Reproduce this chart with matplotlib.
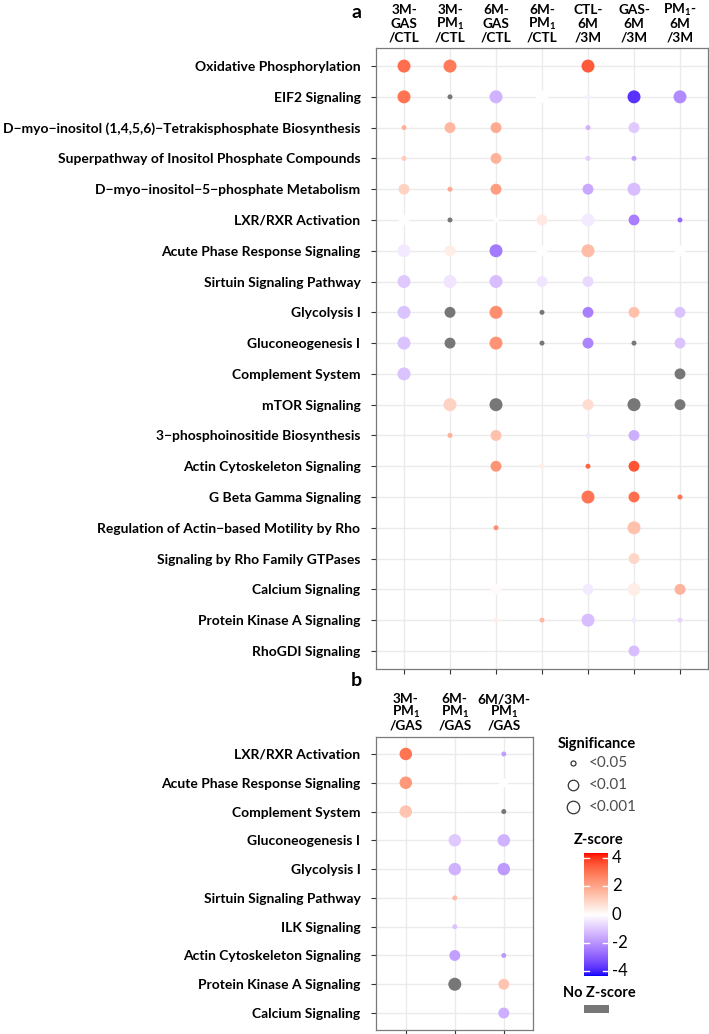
import numpy as np
import matplotlib
matplotlib.use("Agg")
import matplotlib.pyplot as plt
import matplotlib.transforms as mtrans
from matplotlib.colors import ListedColormap, Normalize
from matplotlib.patches import Rectangle

N = np.nan

# ---------------- data ----------------
rows_a = ["Oxidative Phosphorylation", "EIF2 Signaling",
          "D\u2212myo\u2212inositol (1,4,5,6)\u2212Tetrakisphosphate Biosynthesis",
          "Superpathway of Inositol Phosphate Compounds",
          "D\u2212myo\u2212inositol\u22125\u2212phosphate Metabolism",
          "LXR/RXR Activation", "Acute Phase Response Signaling",
          "Sirtuin Signaling Pathway", "Glycolysis I", "Gluconeogenesis I",
          "Complement System", "mTOR Signaling",
          "3\u2212phosphoinositide Biosynthesis", "Actin Cytoskeleton Signaling",
          "G Beta Gamma Signaling", "Regulation of Actin\u2212based Motility by Rho",
          "Signaling by Rho Family GTPases", "Calcium Signaling",
          "Protein Kinase A Signaling", "RhoGDI Signaling"]
cols_a = [["3M-", "GAS", "/CTL"], ["3M-", "PM$_\\mathbf{1}$", "/CTL"],
          ["6M-", "GAS", "/CTL"], ["6M-", "PM$_\\mathbf{1}$", "/CTL"],
          ["CTL-", "6M", "/3M"], ["GAS-", "6M", "/3M"],
          ["PM$_\\mathbf{1}$-", "6M", "/3M"]]

# z-score (nan = no z-score / no point); -log10(p) (nan = no point)
z_a = [[3.1, 2.9, N, N, 3.5, N, N],
       [3.0, N, -1.4, 0.0, -0.3, -3.8, -2.2],
       [1.8, 1.6, 1.9, N, -1.4, -1.0, N],
       [1.2, N, 1.7, N, -0.9, -1.8, N],
       [1.0, 1.9, 2.2, N, -1.6, -1.2, N],
       [0.0, N, 0.0, 0.5, -0.4, -2.4, -2.8],
       [-0.4, 0.4, -2.5, 0.0, 1.5, N, 0.0],
       [-1.0, -0.5, -1.2, -0.5, -0.7, N, N],
       [-1.1, N, 2.5, N, -2.4, 1.4, -1.1],
       [-1.1, N, 2.4, N, -2.3, N, -1.1],
       [-1.1, N, N, N, N, N, N],
       [N, 1.0, N, N, 0.8, N, N],
       [N, 1.8, 1.4, N, -0.4, -1.5, N],
       [N, N, 2.4, 0.4, 3.3, 3.6, N],
       [N, N, N, N, 3.0, 3.1, 3.0],
       [N, N, 2.5, N, N, 1.4, N],
       [N, N, N, N, N, 0.9, N],
       [N, N, 0.1, N, -0.4, 0.4, 1.7],
       [N, N, 0.4, 1.6, -1.2, -0.4, -0.8],
       [N, N, N, N, N, -1.2, N]]
lp_a = [[3.5, 3.5, N, N, 3.5, N, N],
        [3.5, 1.3, 3.5, 2.8, 1.3, 3.5, 3.5],
        [1.3, 2.2, 2.2, N, 1.3, 2.2, N],
        [1.3, N, 2.2, N, 1.3, 1.3, N],
        [2.2, 1.3, 2.2, N, 2.2, 3.5, N],
        [2.2, 1.3, 1.3, 2.2, 3.5, 2.2, 1.3],
        [3.5, 2.2, 3.5, 2.2, 3.5, N, 2.2],
        [3.5, 3.5, 3.5, 2.2, 2.2, N, N],
        [3.5, 2.2, 3.5, 1.3, 2.2, 2.2, 2.2],
        [3.5, 2.2, 3.5, 1.3, 2.2, 1.3, 2.2],
        [3.5, N, N, N, N, N, 2.2],
        [N, 3.5, 3.5, N, 2.2, 3.5, 2.2],
        [N, 1.3, 2.2, N, 1.3, 2.2, N],
        [N, N, 2.2, 1.3, 1.3, 2.2, N],
        [N, N, N, N, 3.5, 2.2, 1.3],
        [N, N, 1.3, N, N, 3.5, N],
        [N, N, N, N, N, 2.2, N],
        [N, N, 2.2, N, 2.2, 3.5, 2.2],
        [N, N, 1.3, 1.3, 3.5, 1.3, 1.3],
        [N, N, N, N, N, 2.2, N]]

rows_b = ["LXR/RXR Activation", "Acute Phase Response Signaling",
          "Complement System", "Gluconeogenesis I", "Glycolysis I",
          "Sirtuin Signaling Pathway", "ILK Signaling",
          "Actin Cytoskeleton Signaling", "Protein Kinase A Signaling",
          "Calcium Signaling"]
cols_b = [["3M-", "PM$_\\mathbf{1}$", "/GAS"], ["6M-", "PM$_\\mathbf{1}$", "/GAS"],
          ["6M/3M-", "PM$_\\mathbf{1}$", "/GAS"]]
z_b = [[3.0, N, -1.8],
       [2.3, N, 0.0],
       [1.3, N, N],
       [N, -1.0, -1.4],
       [N, -1.4, -1.9],
       [N, 1.5, N],
       [N, -1.1, N],
       [N, -1.8, -1.9],
       [N, N, 1.3],
       [N, N, -1.5]]
lp_b = [[3.0, N, 1.3],
        [3.0, N, 1.8],
        [3.0, N, 1.3],
        [N, 3.0, 3.0],
        [N, 3.0, 3.0],
        [N, 1.3, N],
        [N, 1.3, N],
        [N, 2.2, 1.3],
        [N, 3.5, 2.2],
        [N, N, 2.2]]

sig_labels = ["<0.05", "<0.01", "<0.001"]
sig_values = [1.3, 2.0, 3.0]
cbar_ticks = [4, 2, 0, -2, -4]
ZLIM = 4.35

# ---------------- colour scale (Lab interpolation like ggplot gradient2) ----
M_RGB = np.array([[0.4124, 0.3576, 0.1805], [0.2126, 0.7152, 0.0722],
                  [0.0193, 0.1192, 0.9505]])
WP = np.array([0.95047, 1.0, 1.08883])

def srgb2lab(c):
    c = np.asarray(c, float)
    lin = np.where(c <= 0.04045, c / 12.92, ((c + 0.055) / 1.055) ** 2.4)
    xyz = M_RGB @ lin / WP
    f = np.where(xyz > (6 / 29) ** 3, np.cbrt(xyz), xyz / (3 * (6 / 29) ** 2) + 4 / 29)
    return np.array([116 * f[1] - 16, 500 * (f[0] - f[1]), 200 * (f[1] - f[2])])

def lab2srgb(lab):
    L, a, b = lab
    fy = (L + 16) / 116
    f = np.array([fy + a / 500, fy, fy - b / 200])
    xyz = np.where(f > 6 / 29, f ** 3, 3 * (6 / 29) ** 2 * (f - 4 / 29)) * WP
    lin = np.clip(np.linalg.inv(M_RGB) @ xyz, 0, 1)
    c = np.where(lin <= 0.0031308, 12.92 * lin, 1.055 * lin ** (1 / 2.4) - 0.055)
    return np.clip(c, 0, 1)

lab_w = srgb2lab([1, 1, 1])
lab_b = srgb2lab([0, 0, 1])
lab_r = srgb2lab([1, 0, 0])
cols = []
for v in np.linspace(-1, 1, 256):
    if v < 0:
        cols.append(lab2srgb(lab_w + (lab_b - lab_w) * (-v)))
    else:
        cols.append(lab2srgb(lab_w + (lab_r - lab_w) * v))
cmap = ListedColormap(cols)
norm = Normalize(-ZLIM, ZLIM)
GRAY = "#777777"

def diam(lp):
    return np.interp(lp, [1.3, 2.0, 3.0, 4.0], [5.0, 10.5, 12.5, 13.5])

# ---------------- figure ----------------
plt.rcParams["font.family"] = ["Lato", "DejaVu Sans"]
plt.rcParams["mathtext.fontset"] = "custom"
plt.rcParams["mathtext.bf"] = "Lato:bold"
plt.rcParams["mathtext.rm"] = "Lato"
plt.rcParams["mathtext.it"] = "Lato:italic"

W, H = 709, 1034
fig = plt.figure(figsize=(W / 100, H / 100), dpi=100)

ov = fig.add_axes([0, 0, 1, 1], facecolor="none")
ov.set_xlim(0, W)
ov.set_ylim(H, 0)
ov.axis("off")

def add_panel(l, t, r, b):
    return fig.add_axes([l / W, 1 - b / H, (r - l) / W, (b - t) / H])

FS = 10.0
HFS = 9.8

def draw_panel(ax, rows, cols_, z, lp, head_y):
    z = np.array(z, float)
    lp = np.array(lp, float)
    nr, nc = z.shape
    ax.set_xlim(-0.6, nc - 0.4)
    ax.set_ylim(nr - 0.4, -0.6)
    ax.set_xticks(range(nc))
    ax.set_yticks(range(nr))
    ax.grid(True, color="#ebebeb", lw=1.0)
    ax.set_axisbelow(True)
    for s in ax.spines.values():
        s.set_color("#7a7a7a")
        s.set_linewidth(0.9)
    yy, xx = np.mgrid[0:nr, 0:nc]
    m = ~np.isnan(lp)
    colors = [GRAY if np.isnan(zi) else cmap(norm(zi)) for zi in z[m]]
    sizes = (diam(lp[m]) * 0.72) ** 2
    ax.scatter(xx[m], yy[m], s=sizes, c=colors, linewidths=0, zorder=3)
    ax.set_yticklabels(rows, fontweight="bold", fontsize=FS)
    ax.set_xticklabels([])
    ax.tick_params(axis="x", top=False, bottom=True, length=3.5, width=0.8,
                   color="#333333")
    ax.tick_params(axis="y", length=3.5, width=0.8, color="#333333", pad=8)
    tr = mtrans.blended_transform_factory(ax.transData, ov.transData)
    for i, lines in enumerate(cols_):
        for j, txt in enumerate(lines):
            ov.text(i, head_y[j], txt, transform=tr, fontsize=HFS,
                    fontweight="bold", ha="center", va="center")

ax_a = add_panel(376.4, 47.6, 707.6, 669.4)
draw_panel(ax_a, rows_a, cols_a, z_a, lp_a, [10, 24, 37])
ax_b = add_panel(376.4, 736.7, 533.2, 1030.3)
draw_panel(ax_b, rows_b, cols_b, z_b, lp_b, [699, 712, 725])

ov.text(356, 12, "a", fontsize=14, fontweight="bold", ha="center", va="center")
ov.text(356, 681, "b", fontsize=14, fontweight="bold", ha="center", va="center")

# significance legend
ov.text(558, 744, "Significance", fontsize=10.5, fontweight="bold", ha="left", va="center")
for i, (lab, v) in enumerate(zip(sig_labels, sig_values)):
    y = [763, 785, 807][i]
    ov.scatter([573], [y], s=(diam(v) * 0.72) ** 2, facecolor="white",
               edgecolor="#333333", linewidths=0.9, zorder=3)
    ov.text(589, y, lab, fontsize=11, color="#4d4d4d", ha="left", va="center")

# colour bar
ov.text(599, 840, "Z-score", fontsize=10.5, fontweight="bold", ha="center", va="center")
grad = np.linspace(ZLIM, -ZLIM, 256)[:, None]
ov.imshow(grad, cmap=cmap, norm=norm, extent=(584, 608, 976, 853),
          aspect="auto", zorder=2)
ycen = (853 + 976) / 2
pps = (976 - 853) / (2 * ZLIM)
for tv in cbar_ticks:
    y = ycen - tv * pps
    ov.plot([584, 589], [y, y], color="white", lw=1, zorder=3)
    ov.plot([603, 608], [y, y], color="white", lw=1, zorder=3)
    ov.text(612, y, str(tv), fontsize=12, ha="left", va="center")

ov.text(599, 993, "No Z-score", fontsize=10.5, fontweight="bold", ha="center", va="center")
ov.add_patch(Rectangle((584, 1005), 25, 8, facecolor=GRAY, edgecolor="none"))

fig.savefig("out.png", dpi=100)
